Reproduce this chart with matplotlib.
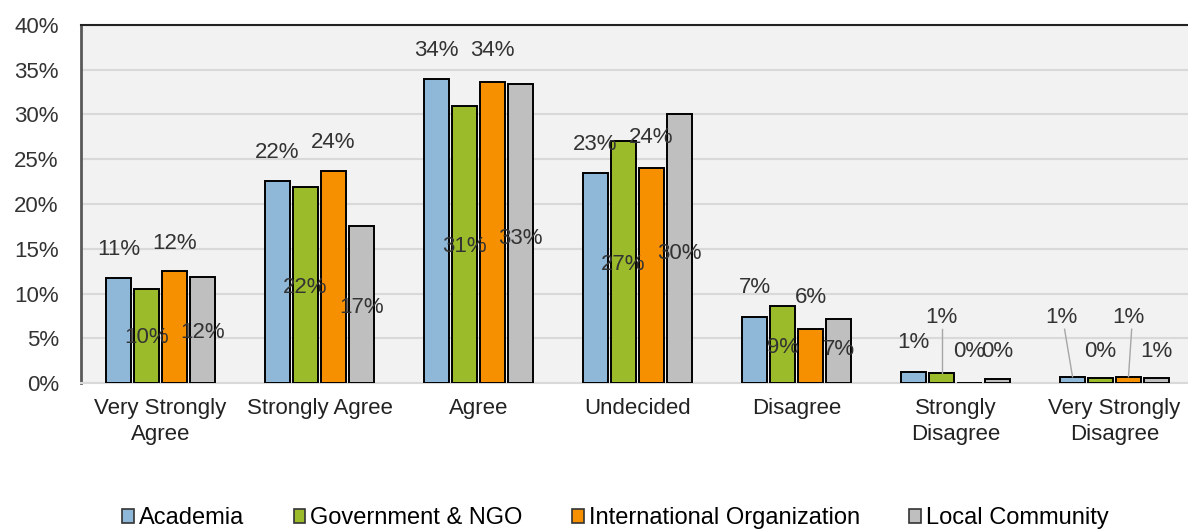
import matplotlib.pyplot as plt
from matplotlib.patches import Patch
import numpy as np

plt.rcParams['font.family'] = ['Liberation Sans', 'DejaVu Sans']

categories = ['Very Strongly\nAgree', 'Strongly Agree', 'Agree', 'Undecided',
              'Disagree', 'Strongly\nDisagree', 'Very Strongly\nDisagree']
groups = ['Academia', 'Government & NGO', 'International Organization', 'Local Community']

academia = [11.7, 22.6, 34.0, 23.5, 7.4, 1.2, 0.7]
government = [10.5, 21.9, 31.0, 27.0, 8.6, 1.1, 0.6]
international = [12.5, 23.7, 33.6, 24.0, 6.0, 0.0, 0.7]
local = [11.8, 17.5, 33.4, 30.1, 7.1, 0.4, 0.6]

# data labels as printed in the chart
academia_lbl = ['11%', '22%', '34%', '23%', '7%', '1%', '1%']
government_lbl = ['10%', '22%', '31%', '27%', '9%', '1%', '0%']
international_lbl = ['12%', '24%', '34%', '24%', '6%', '0%', '1%']
local_lbl = ['12%', '17%', '33%', '30%', '7%', '0%', '1%']

# where excel dropped each label (y, in % units)
academia_lbl_y = [14.9, 25.8, 37.2, 26.6, 10.7, 4.5, 7.3]
government_lbl_y = [5.1, 10.7, 15.2, 13.2, 4.0, 7.3, 3.5]
international_lbl_y = [15.6, 26.9, 37.2, 27.4, 9.5, 3.5, 7.3]
local_lbl_y = [5.6, 8.4, 16.2, 14.5, 3.7, 3.5, 3.5]

series = [academia, government, international, local]
labels = [academia_lbl, government_lbl, international_lbl, local_lbl]
labels_y = [academia_lbl_y, government_lbl_y, international_lbl_y, local_lbl_y]
colors = ['#8fb7d8', '#9bbb2a', '#f79000', '#bfbfbf']

fig = plt.figure(figsize=(11.88, 5.32), dpi=100)
ax = fig.add_axes([81 / 1188, 1 - 383 / 532, 1 - 81 / 1188, (383 - 25) / 532])
ax.set_facecolor('#f2f2f2')

x = np.arange(len(categories))
offsets = [-0.264, -0.088, 0.088, 0.264]
width = 0.155

for i in range(4):
    ax.bar(x + offsets[i], series[i], width, color=colors[i], edgecolor='black',
           linewidth=1.4, zorder=3)
    for j in range(len(categories)):
        dx = -0.07 if (i == 0 and j == 6) else 0
        ax.text(x[j] + offsets[i] + dx, labels_y[i][j], labels[i][j], ha='center', va='center',
                fontsize=16, color='#333333', zorder=5)

# leader lines for the small labels
lead_color = '#a6a6a6'
ax.plot([5 + offsets[1], 5 + offsets[1]], [6.0, government[5]], color=lead_color, lw=1, zorder=4)
ax.plot([6 + offsets[0] - 0.05, 6 + offsets[0]], [6.0, academia[6]], color=lead_color, lw=1, zorder=4)
ax.plot([6 + offsets[2] + 0.02, 6 + offsets[2]], [6.0, international[6]], color=lead_color, lw=1, zorder=4)

ax.set_ylim(0, 40)
ax.set_xlim(-0.5, -0.5 + 1107 / 159)
ax.set_yticks(np.arange(0, 41, 5))
ax.set_yticklabels([f'{v}%' for v in range(0, 41, 5)])
ax.yaxis.grid(True, color='#d9d9d9', lw=1.5, zorder=0)
ax.set_xticks(x)
ax.set_xticklabels(categories, linespacing=1.3)
ax.tick_params(axis='y', length=0, pad=16, labelsize=16, labelcolor='#333333')
ax.tick_params(axis='x', length=0, pad=11, labelsize=16, labelcolor='#222222')

ax.spines['left'].set_color('#595959')
ax.spines['left'].set_linewidth(2)
ax.spines['top'].set_color('#222222')
ax.spines['top'].set_linewidth(1.5)
ax.spines['bottom'].set_color('#d9d9d9')
ax.spines['bottom'].set_linewidth(1.5)
ax.spines['right'].set_visible(False)

handles = [Patch(facecolor=c, edgecolor='#333333', linewidth=1.2) for c in colors]
fig.legend(handles, groups, loc='center', bbox_to_anchor=(0.518, 0.026), ncol=4, frameon=False,
           fontsize=17, handlelength=0.5, handleheight=0.5, handletextpad=0.2,
           columnspacing=2.1)

fig.savefig('out.png', dpi=100, facecolor='white')
